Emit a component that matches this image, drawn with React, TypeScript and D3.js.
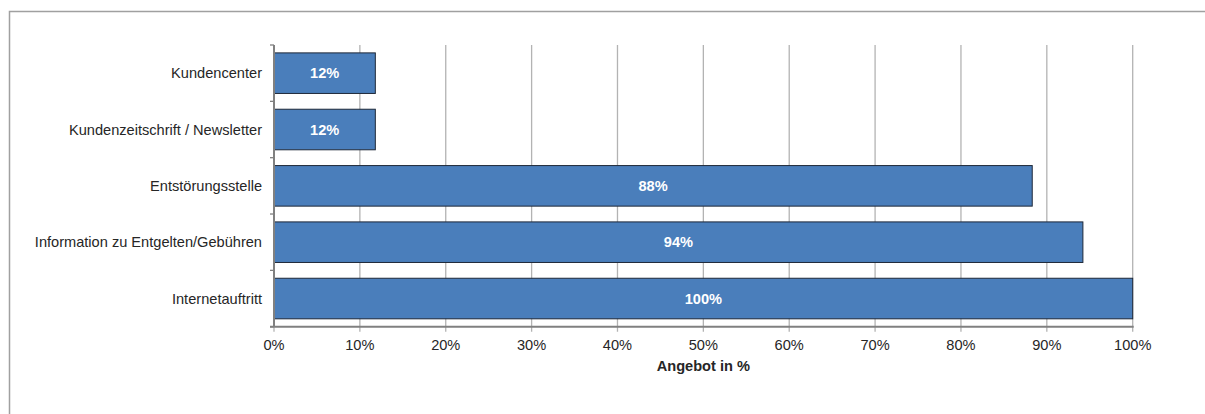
import React from "react";
import * as d3 from "d3";

const categories = [
  "Kundencenter",
  "Kundenzeitschrift / Newsletter",
  "Entstörungsstelle",
  "Information zu Entgelten/Gebühren",
  "Internetauftritt",
];
const values = [11.8, 11.8, 88.3, 94.2, 100];
const xTicks = [0, 10, 20, 30, 40, 50, 60, 70, 80, 90, 100];
const axisTitle = "Angebot in %";

const W = 1205;
const H = 414;
const left = 274;
const right = 1132.7;
const top = 45;
const bottom = 326.7;
const font = "'Liberation Sans', Arial, sans-serif";
const fs = 14.6;

export default function App() {
  const x = d3.scaleLinear().domain([0, 100]).range([left, right]);
  const y = d3
    .scaleBand<string>()
    .domain(categories)
    .range([top, bottom])
    .paddingInner(0.28)
    .paddingOuter(0.14);
  const bounds = categories.map((_, i) => top + (i * (bottom - top)) / categories.length);
  bounds.push(bottom);

  return (
    <svg
      width={W}
      height={H}
      style={{ position: "absolute", left: 0, top: 0, display: "block", background: "#fff" }}
    >
      <rect x={9.5} y={11.5} width={W + 10} height={H + 10} fill="none" stroke="#a0a0a0" strokeWidth={1.5} />
      {xTicks.map((t) => (
        <line key={"g" + t} x1={x(t)} x2={x(t)} y1={top} y2={bottom + 5} stroke="#b3b3b3" strokeWidth={1.3} />
      ))}
      {values.map((v, i) => (
        <g key={i}>
          <rect
            x={x(0)}
            y={y(categories[i])}
            width={x(v) - x(0)}
            height={y.bandwidth()}
            fill="#4a7ebb"
            stroke="#1e2838"
            strokeWidth={1}
          />
          <text
            x={(x(0) + x(v)) / 2}
            y={(y(categories[i]) as number) + y.bandwidth() / 2}
            dy="0.35em"
            textAnchor="middle"
            fill="#fff"
            fontWeight="bold"
            fontSize={fs}
            fontFamily={font}
          >
            {Math.round(v)}%
          </text>
          <text
            x={262}
            y={(y(categories[i]) as number) + y.bandwidth() / 2}
            dy="0.35em"
            textAnchor="end"
            fill="#262626"
            fontSize={fs}
            fontFamily={font}
          >
            {categories[i]}
          </text>
        </g>
      ))}
      {bounds.map((b, i) => (
        <line key={"yt" + i} x1={left - 4} x2={left} y1={b} y2={b} stroke="#808080" strokeWidth={1.3} />
      ))}
      <line x1={left} x2={left} y1={top} y2={bottom} stroke="#808080" strokeWidth={2} />
      <line x1={left - 4} x2={right + 1} y1={bottom} y2={bottom} stroke="#808080" strokeWidth={2} />
      {xTicks.map((t) => (
        <text
          key={"l" + t}
          x={x(t)}
          y={345}
          dy="0.35em"
          textAnchor="middle"
          fill="#262626"
          fontSize={fs}
          fontFamily={font}
        >
          {t}%
        </text>
      ))}
      <text
        x={x(50)}
        y={366}
        dy="0.35em"
        textAnchor="middle"
        fill="#262626"
        fontWeight="bold"
        fontSize={fs}
        fontFamily={font}
      >
        {axisTitle}
      </text>
    </svg>
  );
}
